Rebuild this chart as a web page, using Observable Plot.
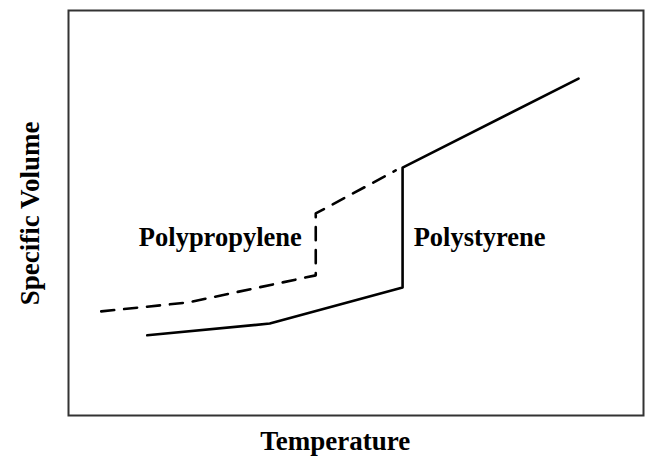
<!DOCTYPE html>
<html><head><meta charset="utf-8">
<script src="https://cdn.jsdelivr.net/npm/d3@7"></script>
<script src="https://cdn.jsdelivr.net/npm/@observablehq/plot@0.6"></script>
<style>body{margin:0;background:#fff}</style>
</head><body><div id="chart"></div>
<script>
const ppT = [5.7, 20.7, 43.0, 43.0, 56.9];
const ppV = [25.7, 27.9, 34.6, 49.9, 60.5];
const psT = [13.7, 35.0, 58.1, 58.1, 88.7];
const psV = [19.8, 22.7, 31.6, 61.2, 83.2];
const labels = ["Polypropylene", "Polystyrene"];
const labelT = [26.4, 71.5];
const labelV = [44, 44];
const xTitle = "Temperature";
const yTitle = "Specific Volume";

const pp = ppT.map((t, i) => ({t, v: ppV[i]}));
const ps = psT.map((t, i) => ({t, v: psV[i]}));
const lab = labels.map((s, i) => ({s, t: labelT[i], v: labelV[i]}));

const font = {fontFamily: "Liberation Serif", fontWeight: "bold", fill: "black"};
const chart = Plot.plot({
  width: 657, height: 461,
  marginLeft: 68, marginRight: 14, marginTop: 10, marginBottom: 46,
  x: {domain: [0, 100], axis: null},
  y: {domain: [0, 100], axis: null},
  style: {background: "white"},
  marks: [
    Plot.frame({stroke: "#333", strokeWidth: 2}),
    Plot.line(pp, {x: "t", y: "v", stroke: "black", strokeWidth: 2.6, strokeDasharray: "13,10"}),
    Plot.line(ps, {x: "t", y: "v", stroke: "black", strokeWidth: 2.6}),
    Plot.text(lab, {x: "t", y: "v", text: "s", fontSize: 26.5, ...font}),
    Plot.text([xTitle], {x: 46.4, y: -6.4, text: d => d, fontSize: 27, clip: false, ...font}),
    Plot.text([yTitle], {x: -6.6, y: 49.9, text: d => d, rotate: -90, fontSize: 27, clip: false, ...font})
  ]
});
document.getElementById("chart").append(chart);
</script>
</body></html>
